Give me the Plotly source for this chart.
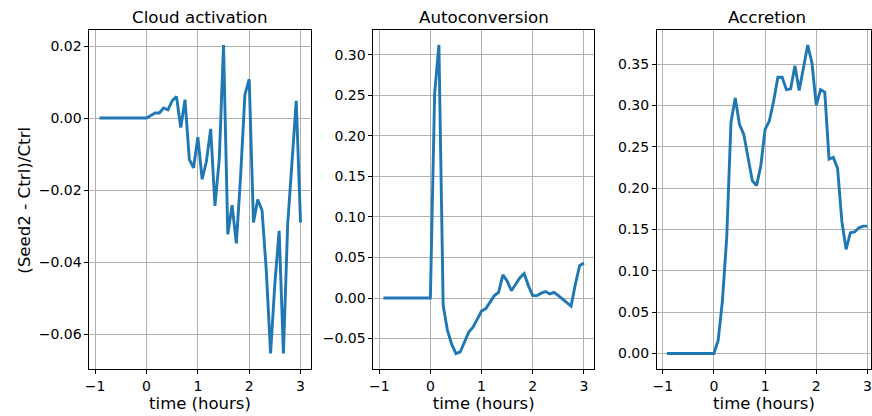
import plotly.graph_objects as go
from plotly.subplots import make_subplots

# time in minutes relative to seeding (5-minute output)
minutes = [-55, -50, -45, -40, -35, -30, -25, -20, -15, -10, -5,
           0, 5, 10, 15, 20, 25, 30, 35, 40, 45, 50, 55,
           60, 65, 70, 75, 80, 85, 90, 95, 100, 105, 110, 115,
           120, 125, 130, 135, 140, 145, 150, 155, 160, 165, 170, 175, 180]

pre_seed = [0.0] * 11

cloud_activation = pre_seed + [
    0.0, 0.0007, 0.0014, 0.0014, 0.0028, 0.0023, 0.0048, 0.006, -0.0026, 0.0051,
    -0.0115, -0.0138, -0.0053, -0.017, -0.012, -0.003, -0.0244, -0.0115, 0.0203,
    -0.0323, -0.0242, -0.0348, -0.016, 0.0065, 0.0108, -0.029, -0.0226, -0.0256,
    -0.0424, -0.0654, -0.046, -0.0313, -0.0654, -0.0295, -0.0124, 0.0048, -0.029,
]
autoconversion = pre_seed + [
    0.0, 0.252, 0.312, -0.009, -0.040, -0.057, -0.0685, -0.0665, -0.054, -0.042,
    -0.036, -0.026, -0.016, -0.013, -0.0045, 0.003, 0.007, 0.0285, 0.021, 0.009,
    0.017, 0.025, 0.030, 0.015, 0.003, 0.003, 0.006, 0.008, 0.005, 0.007,
    0.003, -0.001, -0.006, -0.010, 0.017, 0.040, 0.043,
]
accretion = pre_seed + [
    0.0, 0.016, 0.064, 0.140, 0.279, 0.309, 0.277, 0.265, 0.237, 0.209,
    0.203, 0.227, 0.271, 0.281, 0.305, 0.334, 0.334, 0.319, 0.320, 0.348,
    0.318, 0.345, 0.373, 0.351, 0.300, 0.319, 0.316, 0.235, 0.237, 0.224,
    0.160, 0.126, 0.146, 0.147, 0.152, 0.154, 0.154,
]

titles = ["Cloud activation", "Autoconversion", "Accretion"]
series = [cloud_activation, autoconversion, accretion]
hours = [m / 60 for m in minutes]

W, H = 872, 416
FONT = "DejaVu Sans"
LINE = "#1f77b4"


def px_x(x):
    return x / W


def px_y(y):
    return 1 - y / H


x_domains = [(px_x(85), px_x(307.7)), (px_x(371), px_x(593)), (px_x(656.5), 1.0)]
y_domain = (px_y(369), px_y(29.5))
x_ranges = [[-1.1125, 3.196], [-1.1125, 3.196], [-1.1125, 3.07]]
y_ranges = [[-0.0697, 0.0246], [-0.0875, 0.331], [-0.0187, 0.3917]]
y_dticks = [0.02, 0.05, 0.05]
title_x = [196.3, 482, 767.5]

fig = make_subplots(rows=1, cols=3)

axis_style = dict(
    showline=True, linecolor="black", linewidth=1, mirror=True,
    ticks="outside", ticklen=4, tickwidth=1, tickcolor="black",
    showgrid=True, gridcolor="#b0b0b0", gridwidth=0.8,
    zeroline=False, tickfont=dict(size=14, color="black", family=FONT),
)

for i, (name, vals) in enumerate(zip(titles, series)):
    fig.add_trace(
        go.Scatter(x=hours, y=vals, mode="lines", name=name,
                   line=dict(color=LINE, width=2.9), showlegend=False),
        row=1, col=i + 1,
    )
    fig.update_xaxes(
        domain=list(x_domains[i]), range=x_ranges[i], dtick=1, tick0=0,
        ticklabeloverflow="allow",
        title=dict(text="time (hours)", font=dict(size=16.5, family=FONT, color="black"),
                   standoff=2),
        row=1, col=i + 1, **axis_style,
    )
    fig.update_yaxes(
        domain=list(y_domain), range=y_ranges[i], dtick=y_dticks[i], tick0=0,
        tickformat=".2f", row=1, col=i + 1, **axis_style,
    )
    fig.add_annotation(
        text=name, x=px_x(title_x[i]), y=y_domain[1], xref="paper", yref="paper",
        xanchor="center", yanchor="bottom", yshift=1, showarrow=False,
        font=dict(size=16.7, family=FONT, color="black"),
    )

fig.add_annotation(
    text="(Seed2 - Ctrl)/Ctrl", x=px_x(19), y=px_y(200), xref="paper", yref="paper",
    xanchor="center", yanchor="middle", textangle=-90, showarrow=False,
    font=dict(size=16.7, family=FONT, color="black"),
)

fig.update_layout(
    width=W, height=H,
    margin=dict(l=0, r=0, t=0, b=0),
    paper_bgcolor="white", plot_bgcolor="white",
    font=dict(family=FONT, color="black"),
)

# drop the default page margin so the figure sits at the window origin
fig.write_html(
    "out.html",
    config={"displayModeBar": False},
    post_script="document.body.style.margin='0';document.body.style.overflow='hidden';",
)
